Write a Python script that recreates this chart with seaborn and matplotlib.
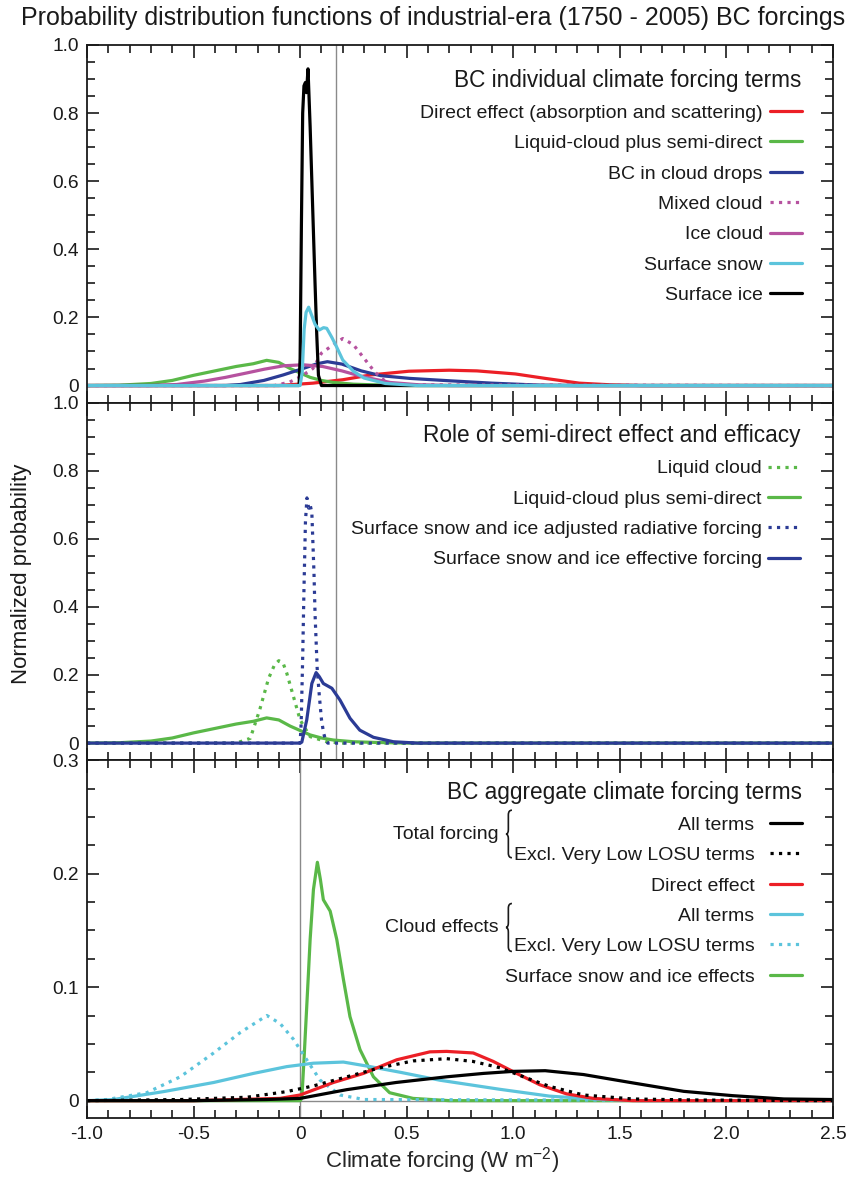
import matplotlib
matplotlib.use("Agg")
import matplotlib.pyplot as plt
from matplotlib.ticker import MultipleLocator
from matplotlib.path import Path
from matplotlib.patches import PathPatch
import seaborn as sns


# ---- data (x = climate forcing W m-2, y = normalized probability) ----

# panel 1: BC individual climate forcing terms
direct1_x = [-1.0, -0.1, 0.06, 0.2, 0.33, 0.51, 0.70, 0.83, 1.01, 1.15, 1.31, 1.46, 1.6, 2.5]
direct1_y = [0, 0, 0.007, 0.017, 0.031, 0.042, 0.045, 0.043, 0.034, 0.021, 0.007, 0.002, 0, 0]

liqsemi_x = [-1.0, -0.85, -0.7, -0.6, -0.5, -0.4, -0.3, -0.22, -0.157, -0.1, -0.047, 0.0, 0.047, 0.1, 0.156, 0.25, 0.35, 0.5, 2.5]
liqsemi_y = [0, 0.001, 0.006, 0.015, 0.03, 0.043, 0.056, 0.064, 0.074, 0.068, 0.05, 0.037, 0.024, 0.015, 0.009, 0.004, 0.002, 0, 0]

drops_x = [-1.0, -0.35, -0.28, -0.17, -0.08, 0.014, 0.08, 0.128, 0.196, 0.287, 0.378, 0.514, 0.70, 0.90, 1.13, 1.3, 2.5]
drops_y = [0, 0, 0.003, 0.015, 0.031, 0.05, 0.064, 0.07, 0.063, 0.043, 0.029, 0.021, 0.014, 0.007, 0.001, 0, 0]

mixed_x = [-1.0, -0.12, -0.05, 0.0, 0.06, 0.1, 0.156, 0.2, 0.25, 0.3, 0.35, 0.4, 0.45, 2.5]
mixed_y = [0, 0, 0.01, 0.025, 0.05, 0.095, 0.12, 0.138, 0.12, 0.08, 0.04, 0.012, 0.002, 0]

icecloud_x = [-1.0, -0.7, -0.58, -0.45, -0.35, -0.25, -0.168, -0.077, 0.014, 0.105, 0.196, 0.287, 0.423, 0.56, 0.7, 2.5]
icecloud_y = [0, 0, 0.003, 0.013, 0.024, 0.037, 0.048, 0.058, 0.061, 0.056, 0.043, 0.027, 0.009, 0.002, 0, 0]

snow_x = [-1.0, 0.0, 0.01, 0.019, 0.028, 0.04, 0.055, 0.07, 0.09, 0.11, 0.125, 0.15, 0.17, 0.2, 0.25, 0.3, 0.4, 0.55, 2.5]
snow_y = [0, 0, 0.04, 0.166, 0.215, 0.23, 0.205, 0.18, 0.163, 0.17, 0.168, 0.14, 0.115, 0.075, 0.042, 0.022, 0.006, 0, 0]

sfcice_x = [-1.0, -0.005, 0.0, 0.006, 0.012, 0.018, 0.025, 0.03, 0.037, 0.047, 0.055, 0.0625, 0.07, 0.078, 0.086, 0.1, 2.5]
sfcice_y = [0, 0, 0.08, 0.47, 0.8, 0.88, 0.89, 0.86, 0.93, 0.76, 0.6, 0.45, 0.3, 0.15, 0.03, 0, 0]

# panel 2: role of semi-direct effect and efficacy
liqcloud_x = [-1.0, -0.3, -0.234, -0.19, -0.148, -0.12, -0.1, -0.08, -0.0625, -0.031, 0.0, 0.047, 0.125, 0.2, 2.5]
liqcloud_y = [0, 0, 0.014, 0.097, 0.19, 0.23, 0.242, 0.235, 0.205, 0.136, 0.068, 0.019, 0.004, 0, 0]

adjrf_x = [-1.0, 0.0, 0.005, 0.012, 0.018, 0.025, 0.032, 0.04, 0.047, 0.055, 0.065, 0.07, 0.08, 0.09, 0.1, 0.11, 0.12, 0.13, 2.5]
adjrf_y = [0, 0, 0.06, 0.25, 0.45, 0.65, 0.72, 0.69, 0.70, 0.676, 0.5, 0.38, 0.22, 0.14, 0.07, 0.03, 0.008, 0, 0]

effrf_x = [-1.0, 0.0, 0.008, 0.031, 0.055, 0.075, 0.09, 0.109, 0.149, 0.1875, 0.234, 0.28, 0.344, 0.4375, 0.55, 2.5]
effrf_y = [0, 0, 0.003, 0.068, 0.175, 0.207, 0.195, 0.175, 0.161, 0.126, 0.073, 0.038, 0.017, 0.004, 0, 0]

# panel 3: BC aggregate climate forcing terms
totall_x = [-1.0, -0.5, -0.16, 0.0, 0.219, 0.45, 0.6875, 0.86, 1.0, 1.15, 1.33, 1.5625, 1.8, 2.03, 2.27, 2.5]
totall_y = [0, 0, 0.001, 0.002, 0.0097, 0.016, 0.021, 0.024, 0.0258, 0.0264, 0.023, 0.0156, 0.0082, 0.0044, 0.0015, 0.001]

totexcl_x = [-1.0, -0.56, -0.25, -0.0625, 0.0625, 0.219, 0.375, 0.53, 0.6875, 0.81, 0.9375, 1.0625, 1.17, 1.33, 1.56, 1.88, 2.5]
totexcl_y = [0, 0.001, 0.003, 0.008, 0.013, 0.021, 0.029, 0.035, 0.037, 0.0346, 0.029, 0.02, 0.0126, 0.005, 0.0015, 0.0005, 0]

direct3_x = [-1.0, -0.5, -0.094, 0.0, 0.156, 0.297, 0.453, 0.609, 0.6875, 0.8125, 0.906, 1.016, 1.125, 1.25, 1.375, 1.56, 2.5]
direct3_y = [0, 0, 0.002, 0.005, 0.016, 0.024, 0.036, 0.043, 0.0434, 0.042, 0.0346, 0.024, 0.014, 0.006, 0.002, 0, 0]

cloudall_x = [-1.0, -0.875, -0.64, -0.406, -0.219, -0.0625, 0.0625, 0.203, 0.328, 0.47, 0.656, 0.9375, 1.17, 1.41, 1.6, 2.5]
cloudall_y = [0, 0.001, 0.008, 0.016, 0.024, 0.03, 0.033, 0.034, 0.03, 0.025, 0.018, 0.01, 0.004, 0.001, 0, 0]

cloudexcl_x = [-1.0, -0.906, -0.72, -0.5625, -0.406, -0.281, -0.156, -0.094, -0.031, 0.031, 0.094, 0.1875, 0.3, 2.5]
cloudexcl_y = [0, 0.001, 0.007, 0.021, 0.042, 0.06, 0.075, 0.068, 0.054, 0.036, 0.018, 0.005, 0.001, 0]

snowice_x = [-1.0, 0.0, 0.008, 0.019, 0.039, 0.047, 0.0625, 0.081, 0.095, 0.109, 0.141, 0.172, 0.203, 0.234, 0.281, 0.344, 0.42, 0.53, 0.7, 2.5]
snowice_y = [0, 0, 0.002, 0.039, 0.112, 0.142, 0.186, 0.21, 0.195, 0.177, 0.167, 0.142, 0.107, 0.074, 0.045, 0.021, 0.007, 0.002, 0, 0]

# tick labels
x_ticks = [-1.0, -0.5, 0, 0.5, 1.0, 1.5, 2.0, 2.5]
x_ticklabels = ["-1.0", "-0.5", "0", "0.5", "1.0", "1.5", "2.0", "2.5"]
y_ticks_12 = [0, 0.2, 0.4, 0.6, 0.8, 1.0]
y_ticklabels_12 = ["0", "0.2", "0.4", "0.6", "0.8", "1.0"]
y_ticks_3 = [0, 0.1, 0.2, 0.3]
y_ticklabels_3 = ["0", "0.1", "0.2", "0.3"]

# colours
red = "#ec1f26"
green = "#5ab848"
navy = "#2b3b95"
magenta = "#b6529f"
cyan = "#5cc4dc"
black = "#000000"
grey = "#8a8a8a"

# ---- style ----
sns.set_style("ticks")
plt.rcParams["font.family"] = ["Liberation Sans", "DejaVu Sans"]
plt.rcParams["mathtext.fontset"] = "custom"
plt.rcParams["mathtext.rm"] = "Liberation Sans"
plt.rcParams["mathtext.it"] = "Liberation Sans:italic"
plt.rcParams["text.color"] = "#1a1a1a"

fig, axes = plt.subplots(nrows=3, ncols=1, sharex=True, figsize=(8.49, 11.78), dpi=100)
fig.subplots_adjust(left=0.1025, right=0.981, top=0.9618, bottom=0.0512, hspace=0)
ax1, ax2, ax3 = axes

LW = 2.3
leg_kw = dict(loc="upper right", markerfirst=False, frameon=False, fontsize=14, title_fontsize=16.3,
              handlelength=1.63, labelspacing=0.655, borderpad=0, borderaxespad=0, alignment="right")


def draw(ax, x, y, color, label, ls="-"):
    sns.lineplot(x=x, y=y, ax=ax, color=color, linewidth=LW, linestyle=ls, label=label)
    return ax.lines[-1]


# ---- panel 1 ----
ax1.axvline(0.17, color=grey, lw=1.0, zorder=1)
h = {}
h["Direct effect (absorption and scattering)"] = draw(ax1, direct1_x, direct1_y, red, "a")
h["Liquid-cloud plus semi-direct"] = draw(ax1, liqsemi_x, liqsemi_y, green, "b")
h["BC in cloud drops"] = draw(ax1, drops_x, drops_y, navy, "c")
h["Mixed cloud"] = draw(ax1, mixed_x, mixed_y, magenta, "d", ":")
h["Ice cloud"] = draw(ax1, icecloud_x, icecloud_y, magenta, "e")
h["Surface ice"] = draw(ax1, sfcice_x, sfcice_y, black, "g")
h["Surface snow"] = draw(ax1, snow_x, snow_y, cyan, "f")
order1 = ["Direct effect (absorption and scattering)", "Liquid-cloud plus semi-direct",
          "BC in cloud drops", "Mixed cloud", "Ice cloud", "Surface snow", "Surface ice"]
ax1.legend([h[k] for k in order1], order1, title="BC individual climate forcing terms",
           bbox_to_anchor=(0.958, 0.934), handletextpad=0.36, **leg_kw)

# ---- panel 2 ----
ax2.axvline(0.17, color=grey, lw=1.0, zorder=1)
h = {}
h["Liquid cloud"] = draw(ax2, liqcloud_x, liqcloud_y, green, "a", ":")
h["Liquid-cloud plus semi-direct"] = draw(ax2, liqsemi_x, liqsemi_y, green, "b")
h["Surface snow and ice adjusted radiative forcing"] = draw(ax2, adjrf_x, adjrf_y, navy, "c", ":")
h["Surface snow and ice effective forcing"] = draw(ax2, effrf_x, effrf_y, navy, "d")
order2 = list(h.keys())
ax2.legend([h[k] for k in order2], order2, title="Role of semi-direct effect and efficacy",
           bbox_to_anchor=(0.956, 0.940), handletextpad=0.33, **leg_kw)

# ---- panel 3 ----
ax3.axvline(0, color=grey, lw=1.0, zorder=1)
ax3.axhline(0, color=grey, lw=1.0, zorder=1)
h = []
h.append(draw(ax3, snowice_x, snowice_y, green, "f"))
h.append(draw(ax3, cloudall_x, cloudall_y, cyan, "d"))
h.append(draw(ax3, cloudexcl_x, cloudexcl_y, cyan, "e", ":"))
h.append(draw(ax3, direct3_x, direct3_y, red, "c"))
h.append(draw(ax3, totall_x, totall_y, black, "a"))
h.append(draw(ax3, totexcl_x, totexcl_y, black, "b", ":"))
handles3 = [h[4], h[5], h[3], h[1], h[2], h[0]]
labels3 = ["All terms", "Excl. Very Low LOSU terms", "Direct effect", "All terms",
           "Excl. Very Low LOSU terms", "Surface snow and ice effects"]
ax3.legend(handles3, labels3, title="BC aggregate climate forcing terms",
           bbox_to_anchor=(0.958, 0.943), handletextpad=0.8, **leg_kw)


def brace(ax, x, y_top, y_bot, y_tip, w=0.008, r=0.013):
    s = x - w * 0.6
    verts = [(x, y_top), (s, y_top), (s, y_top - r), (s, y_tip + r), (s, y_tip), (x - w, y_tip),
             (s, y_tip), (s, y_tip - r), (s, y_bot + r), (s, y_bot), (x, y_bot)]
    codes = [Path.MOVETO, Path.CURVE3, Path.CURVE3, Path.LINETO, Path.CURVE3, Path.CURVE3,
             Path.CURVE3, Path.CURVE3, Path.LINETO, Path.CURVE3, Path.CURVE3]
    ax.add_patch(PathPatch(Path(verts, codes), transform=ax.transAxes, fill=False,
                           lw=1.2, edgecolor="#1a1a1a", clip_on=False))


ax3.text(0.5513, 0.793, "Total forcing", transform=ax3.transAxes, ha="right", va="center", fontsize=14)
ax3.text(0.5513, 0.532, "Cloud effects", transform=ax3.transAxes, ha="right", va="center", fontsize=14)
brace(ax3, 0.5697, 0.860, 0.727, 0.793)
brace(ax3, 0.5697, 0.599, 0.465, 0.532)

# ---- axes, ticks ----
for ax in axes:
    ax.set_xlim(-1.0, 2.5)
    ax.xaxis.set_minor_locator(MultipleLocator(0.1))
    ax.tick_params(which="both", direction="in", top=True, right=True, width=1.2,
                   colors="#1a1a1a", labelsize=13.8, pad=6)
    ax.tick_params(axis="x", which="major", length=9)
    ax.tick_params(axis="x", which="minor", length=5.5)
    ax.tick_params(axis="y", which="major", length=8.5)
    ax.tick_params(axis="y", which="minor", length=6)
    for sp in ax.spines.values():
        sp.set_linewidth(1.3)
        sp.set_color("#1a1a1a")
    ax.set_xlabel("")
    ax.set_ylabel("")

for ax in (ax1, ax2):
    ax.set_ylim(-0.05, 1.0)
    ax.set_yticks(y_ticks_12, y_ticklabels_12)
    ax.yaxis.set_minor_locator(MultipleLocator(0.05))

ax3.set_ylim(-0.015, 0.3)
ax3.set_yticks(y_ticks_3, y_ticklabels_3)
ax3.yaxis.set_minor_locator(MultipleLocator(0.025))
ax3.set_xticks(x_ticks, x_ticklabels)

ax3.set_xlabel("Climate forcing (W m$^{-2}$)", fontsize=16)
ax3.xaxis.set_label_coords(0.4765, -0.078)

fig.text(22 / 849, 1 - 574 / 1178, "Normalized probability", rotation=90,
         ha="center", va="center", fontsize=16)
fig.text(0.51, 1 - 18 / 1178, "Probability distribution functions of industrial-era (1750 - 2005) BC forcings",
         ha="center", va="center", fontsize=18)

plt.savefig("out.png", dpi=100)
